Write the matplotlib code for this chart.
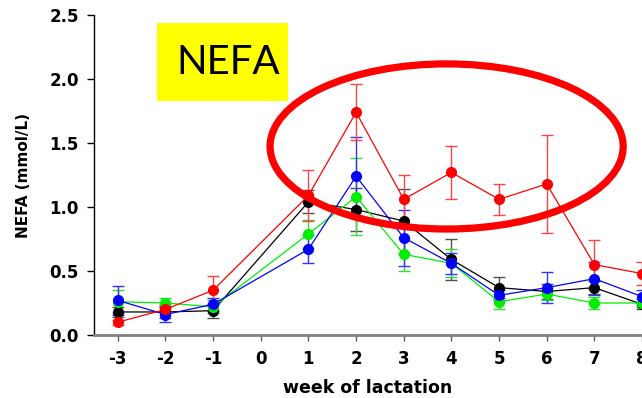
import matplotlib
matplotlib.use("Agg")
import matplotlib.pyplot as plt
from matplotlib.patches import Ellipse, Rectangle

weeks = [-3, -2, -1, 1, 2, 3, 4, 5, 6, 7, 8]

black_mean = [0.18, 0.18, 0.19, 1.04, 0.98, 0.89, 0.59, 0.37, 0.34, 0.37, 0.24]
black_sem = [0.04, 0.05, 0.055, 0.09, 0.17, 0.25, 0.16, 0.08, 0.06, 0.05, 0.04]

green_mean = [0.26, 0.25, 0.22, 0.79, 1.08, 0.63, 0.56, 0.26, 0.32, 0.25, 0.25]
green_sem = [0.09, 0.04, 0.05, 0.11, 0.30, 0.13, 0.11, 0.06, 0.05, 0.05, 0.03]

blue_mean = [0.27, 0.16, 0.24, 0.67, 1.24, 0.76, 0.56, 0.31, 0.37, 0.44, 0.30]
blue_sem = [0.11, 0.06, 0.05, 0.11, 0.31, 0.22, 0.08, 0.04, 0.12, 0.13, 0.05]

red_mean = [0.10, 0.20, 0.35, 1.09, 1.74, 1.06, 1.27, 1.06, 1.18, 0.55, 0.48]
red_sem = [0.02, 0.04, 0.11, 0.20, 0.22, 0.19, 0.21, 0.12, 0.38, 0.19, 0.09]

# (mean, sem, line colour, error bar colour)
groups = [
    (black_mean, black_sem, "black", "#505050"),
    (green_mean, green_sem, "#00ee00", "#33dd33"),
    (blue_mean, blue_sem, "#0000ff", "#3333ff"),
    (red_mean, red_sem, "#ff0000", "#ff4444"),
]

plt.rcParams["font.family"] = "DejaVu Sans"
plt.rcParams["font.weight"] = "bold"
plt.rcParams["axes.unicode_minus"] = False

fig = plt.figure(figsize=(6.42, 3.98), dpi=100)
ax = fig.add_axes([94 / 642, 63 / 398, 548 / 642, 320 / 398])

for mean, sem, color, ecolor in groups:
    ax.errorbar(weeks, mean, yerr=sem, color=color, ecolor=ecolor, elinewidth=1.0,
                capsize=4.5, capthick=1.0, lw=0.9, marker="o", markersize=7,
                mec=color, mfc=color)

ax.set_xlim(-3.5, 8.0)
ax.set_ylim(0, 2.5)
ax.set_xticks(range(-3, 9))
ax.set_yticks([0.0, 0.5, 1.0, 1.5, 2.0, 2.5])
ax.set_yticklabels(["0.0", "0.5", "1.0", "1.5", "2.0", "2.5"])

ax.spines["top"].set_visible(False)
ax.spines["right"].set_visible(False)
ax.spines["left"].set_color("black")
ax.spines["left"].set_linewidth(1.0)
ax.spines["bottom"].set_color("#808080")
ax.spines["bottom"].set_linewidth(2.0)
ax.tick_params(axis="y", direction="out", length=5, width=1, colors="black",
               labelsize=12, pad=6)
ax.tick_params(axis="x", direction="out", length=4, width=1, color="#606060",
               labelcolor="black", labelsize=12, pad=7)

ax.set_xlabel("week of lactation", fontsize=12.5, fontweight="bold", labelpad=8)
ax.set_ylabel("NEFA (mmol/L)", fontsize=11, fontweight="bold", labelpad=13)

# highlight ring around the weeks 2-7 plateau
ring = Ellipse((3.9, 1.473), 7.41, 1.29, fill=False, edgecolor="#ff0000",
               lw=5.2, clip_on=False, zorder=10)
ax.add_patch(ring)

# title box
fig.patches.append(Rectangle((157 / 642, 297 / 398), 131 / 642, 78 / 398,
                             transform=fig.transFigure, facecolor="#ffff00",
                             edgecolor="none", zorder=5))
fig.text(228 / 642, 336 / 398, "NEFA", family="Lato", fontweight="normal",
         fontsize=29, ha="center", va="center", zorder=6)

fig.savefig("out.png", dpi=100)
